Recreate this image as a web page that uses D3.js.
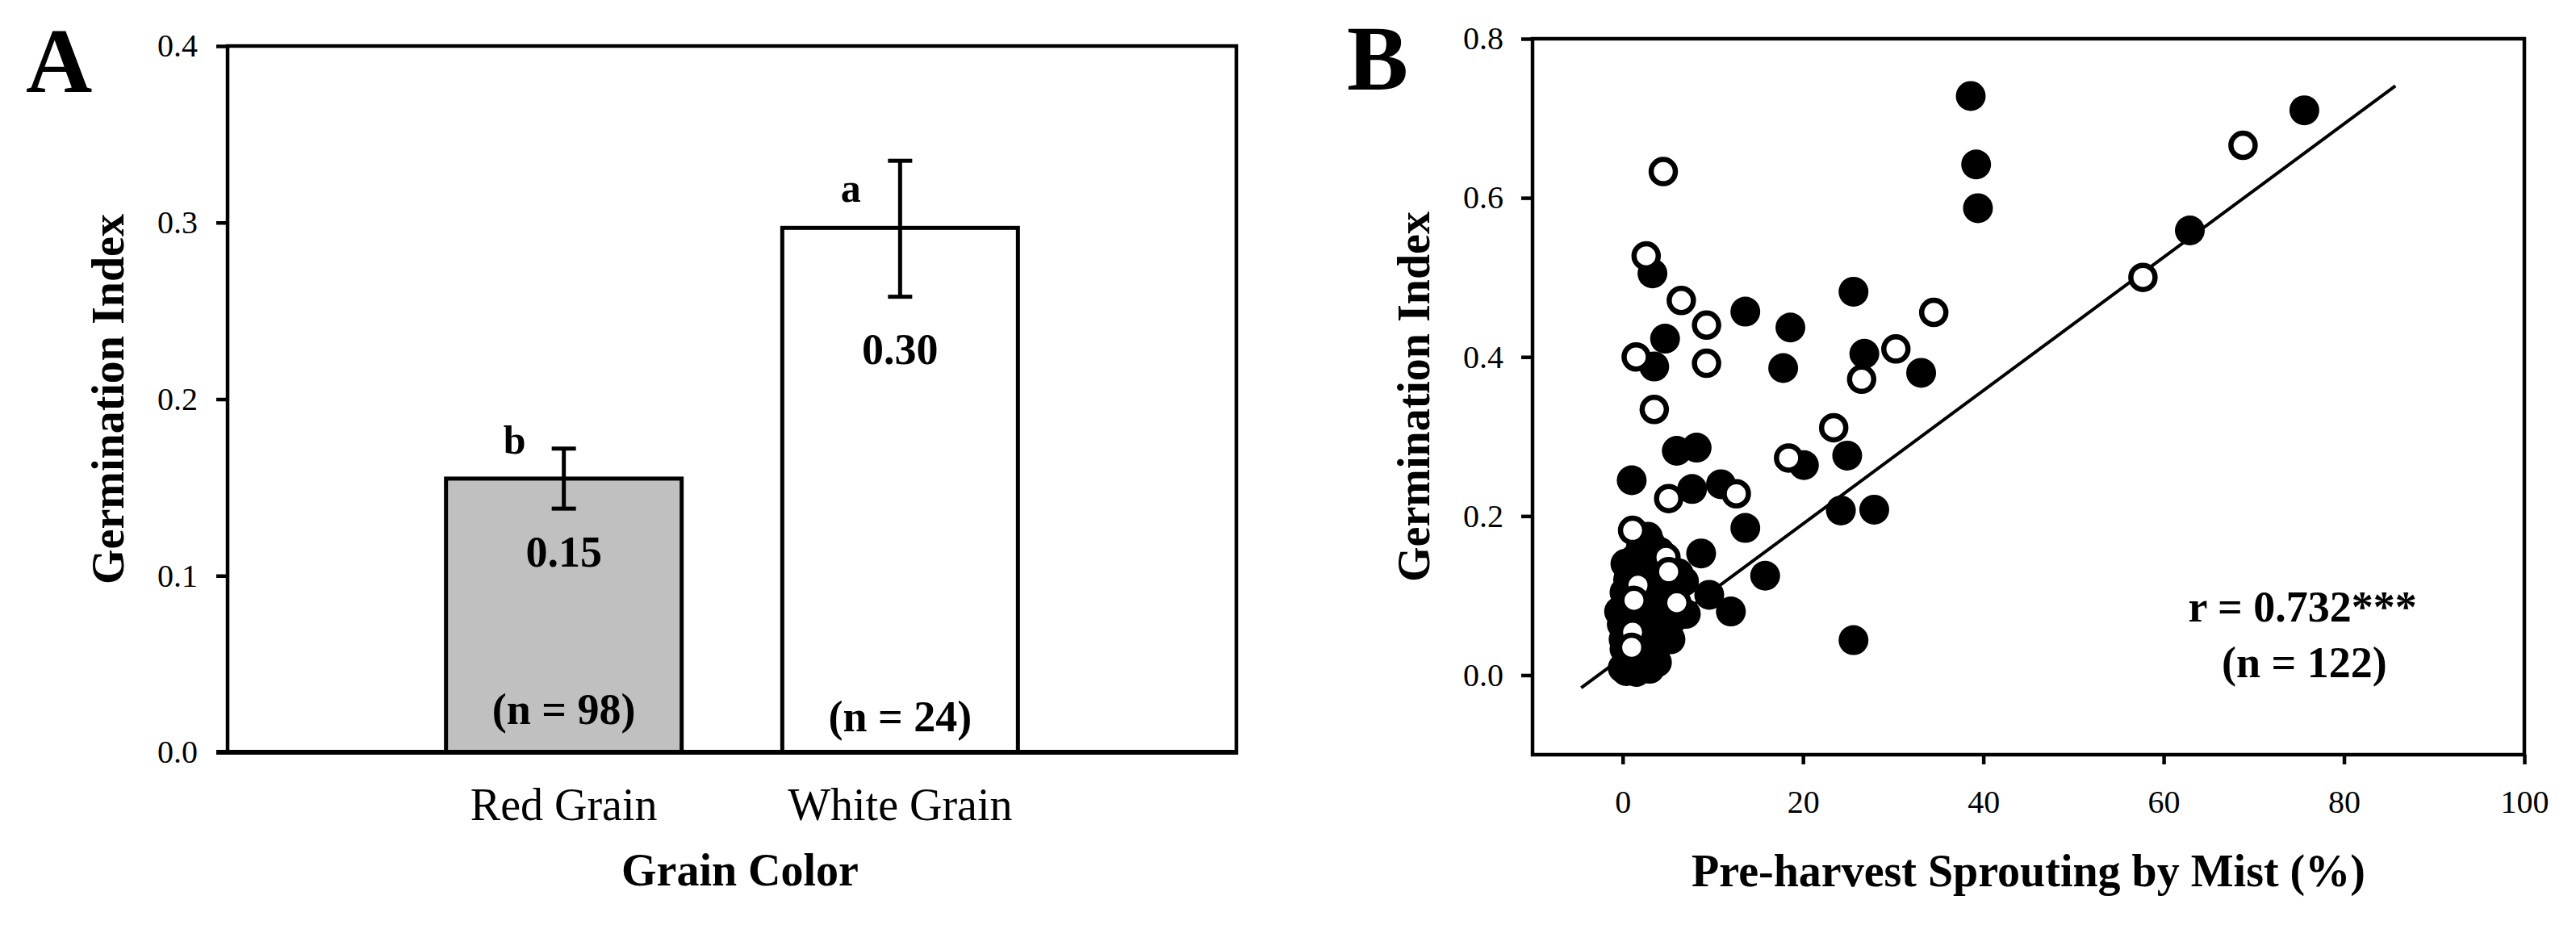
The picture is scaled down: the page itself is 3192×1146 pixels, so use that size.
<!DOCTYPE html>
<html>
<head>
<meta charset="utf-8">
<script src="https://cdn.jsdelivr.net/npm/d3@7"></script>
<style>
    body { margin: 0; background: #fff; }
    text { font-family: "Liberation Serif", "Times New Roman", serif; fill: #000; }
</style>
</head>
<body>
<svg id="chart" width="3192" height="1146"></svg>
<script>
// ---- Panel A data: germination index by grain colour ----
const grainCategories = ["Red Grain", "White Grain"];
const grainMeans = [0.155, 0.297];
const grainErrLow = [0.138, 0.258];
const grainErrHigh = [0.172, 0.335];
const grainValueLabels = ["0.15", "0.30"];
const grainCountLabels = ["(n = 98)", "(n = 24)"];
const grainLetters = ["b", "a"];
const grainFills = ["#c0c0c0", "#ffffff"];
const barTicks = [0, 0.1, 0.2, 0.3, 0.4];

// label anchors (data units on the y scale)
const valueLabelY = [0.105, 0.220];
const countLabelY = [0.016, 0.012];
const letterY = [0.169, 0.312];

// ---- Panel B data: [sprouting %, germination index] ----
const redGrainPoints = [
    [38.6, 0.728], [39.2, 0.642], [39.4, 0.587], [75.6, 0.710], [62.9, 0.559],
    [3.3, 0.505], [13.6, 0.457], [25.6, 0.482], [18.6, 0.437], [4.7, 0.423],
    [3.5, 0.388], [17.8, 0.386], [26.8, 0.404], [33.1, 0.380],
    [6.0, 0.282], [8.2, 0.286], [20.1, 0.264], [24.9, 0.276],
    [1.0, 0.245], [7.7, 0.234], [10.9, 0.240], [24.2, 0.207], [27.9, 0.208],
    [13.6, 0.185], [2.8, 0.174], [8.7, 0.153], [15.8, 0.125], [9.6, 0.101],
    [7.0, 0.077], [12.0, 0.080], [25.6, 0.044],
    [1.1, 0.138], [6.2, 0.128], [0.2, 0.104], [-0.1, 0.064], [3.8, 0.064],
    [4.1, 0.044], [0.2, 0.033], [0.0, 0.009], [1.5, 0.004], [2.3, 0.030],
    [-0.4, 0.080], [2.9, 0.091], [3.5, 0.118], [4.1, 0.155], [2.0, 0.160],
    [0.6, 0.120], [1.8, 0.075], [0.8, 0.050], [2.6, 0.052], [3.2, 0.020],
    [0.5, 0.018], [1.2, 0.145], [5.0, 0.090], [5.5, 0.070], [4.5, 0.105],
    [2.2, 0.110], [0.3, 0.140], [1.6, 0.020], [2.7, 0.135], [3.0, 0.008],
    [0.9, 0.085], [1.4, 0.064], [6.8, 0.118], [0.4, 0.005],
    [2.1, 0.090], [1.3, 0.100], [3.4, 0.075], [4.6, 0.125], [0.7, 0.065],
    [2.5, 0.040], [1.9, 0.125], [3.9, 0.100], [5.8, 0.105], [0.1, 0.045],
    [1.1, 0.028], [2.4, 0.150], [3.1, 0.165], [4.4, 0.060], [5.2, 0.112],
    [1.7, 0.042], [0.6, 0.095], [2.8, 0.115], [3.6, 0.030], [0.9, 0.012],
    [5.3, 0.045], [3.8, 0.016]
];
const whiteGrainPoints = [
    [4.5, 0.633], [2.6, 0.527], [6.5, 0.471], [9.3, 0.440], [1.5, 0.400],
    [9.3, 0.392], [30.3, 0.410], [26.5, 0.372], [34.5, 0.456], [3.5, 0.334],
    [23.4, 0.311], [18.4, 0.273], [5.1, 0.222], [12.6, 0.228], [1.1, 0.182],
    [4.8, 0.148], [5.1, 0.130], [1.7, 0.113], [1.25, 0.094], [6.0, 0.091],
    [1.1, 0.054], [1.0, 0.035], [68.8, 0.666], [57.7, 0.500]
];
const fitSlope = 0.00838;
const fitIntercept = 0.0226;
const fitRange = [-4.6, 85.7];
const scatterXTicks = [0, 20, 40, 60, 80, 100];
const scatterYTicks = [0, 0.2, 0.4, 0.6, 0.8];
const corrLabel = "r = 0.732***";
const corrCountLabel = "(n = 122)";
const corrLabelPos = [75.4, 0.067];
const corrCountPos = [75.6, -0.003];

const svg = d3.select("#chart");

/**
 * Styles an axis group the way the original figure does
 */
function styleAxis(g, fontSize) {
    g.select(".domain").remove();
    g.selectAll(".tick line").attr("stroke", "#000").attr("stroke-width", 4.5);
    g.selectAll(".tick text")
        .attr("fill", "#000")
        .style("font-family", "'Liberation Serif', serif")
        .style("font-size", fontSize + "px");
}

/**
 * Panel A: bar chart with error bars
 */
function drawBarPanel() {
    let left = 282, right = 1532, top = 57, bottom = 932;

    let x = d3.scalePoint().domain(grainCategories).range([left, right]).padding(1);
    let y = d3.scaleLinear().domain([0, 0.4]).range([bottom, top]);
    let barWidth = 292;

    let g = svg.append("g");

    // Bars
    g.selectAll("rect.bar")
        .data(grainCategories)
        .join("rect")
        .attr("class", "bar")
        .attr("x", d => x(d) - barWidth / 2)
        .attr("y", (d, i) => y(grainMeans[i]))
        .attr("width", barWidth)
        .attr("height", (d, i) => y(0) - y(grainMeans[i]))
        .attr("fill", (d, i) => grainFills[i])
        .attr("stroke", "#000")
        .attr("stroke-width", 5);

    // Error bars
    let err = g.selectAll("g.err").data(grainCategories).join("g").attr("class", "err");
    err.append("line")
        .attr("x1", d => x(d)).attr("x2", d => x(d))
        .attr("y1", (d, i) => y(grainErrLow[i]))
        .attr("y2", (d, i) => y(grainErrHigh[i]));
    err.append("line")
        .attr("x1", d => x(d) - 15).attr("x2", d => x(d) + 15)
        .attr("y1", (d, i) => y(grainErrHigh[i])).attr("y2", (d, i) => y(grainErrHigh[i]));
    err.append("line")
        .attr("x1", d => x(d) - 15).attr("x2", d => x(d) + 15)
        .attr("y1", (d, i) => y(grainErrLow[i])).attr("y2", (d, i) => y(grainErrLow[i]));
    err.selectAll("line").attr("stroke", "#000").attr("stroke-width", 5);

    // Labels inside and above the bars
    g.selectAll("text.value").data(grainCategories).join("text")
        .attr("class", "value")
        .attr("x", d => x(d)).attr("y", (d, i) => y(valueLabelY[i]))
        .attr("text-anchor", "middle").attr("font-weight", "bold").attr("font-size", 54)
        .text((d, i) => grainValueLabels[i]);
    g.selectAll("text.count").data(grainCategories).join("text")
        .attr("class", "count")
        .attr("x", d => x(d)).attr("y", (d, i) => y(countLabelY[i]))
        .attr("text-anchor", "middle").attr("font-weight", "bold").attr("font-size", 54)
        .text((d, i) => grainCountLabels[i]);
    g.selectAll("text.letter").data(grainCategories).join("text")
        .attr("class", "letter")
        .attr("x", d => x(d) - 61).attr("y", (d, i) => y(letterY[i]))
        .attr("text-anchor", "middle").attr("font-weight", "bold").attr("font-size", 50)
        .text((d, i) => grainLetters[i]);

    // Frame
    g.append("rect")
        .attr("x", left).attr("y", top)
        .attr("width", right - left).attr("height", bottom - top)
        .attr("fill", "none").attr("stroke", "#000").attr("stroke-width", 4.5);
    g.append("line")
        .attr("x1", left - 14).attr("x2", right + 2)
        .attr("y1", bottom).attr("y2", bottom)
        .attr("stroke", "#000").attr("stroke-width", 6);

    // Y axis
    let yAxis = g.append("g")
        .attr("transform", "translate(" + left + ",0)")
        .call(d3.axisLeft(y).tickValues(barTicks).tickFormat(d3.format(".1f")).tickSize(14).tickPadding(23));
    styleAxis(yAxis, 40);

    // Category labels
    g.selectAll("text.cat").data(grainCategories).join("text")
        .attr("class", "cat")
        .attr("x", d => x(d)).attr("y", 1016)
        .attr("text-anchor", "middle").attr("font-size", 56)
        .text(d => d);

    // Titles
    g.append("text")
        .attr("x", (left + right) / 2 + 10).attr("y", 1097)
        .attr("text-anchor", "middle").attr("font-weight", "bold").attr("font-size", 56)
        .text("Grain Color");
    g.append("text")
        .attr("transform", "translate(153," + (top + bottom) / 2 + ") rotate(-90)")
        .attr("text-anchor", "middle").attr("font-weight", "bold").attr("font-size", 56)
        .text("Germination Index");
    g.append("text")
        .attr("x", 32).attr("y", 114)
        .attr("font-weight", "bold").attr("font-size", 114)
        .text("A");
}

/**
 * Panel B: scatter plot with regression line
 */
function drawScatterPanel() {
    let left = 1899, right = 3128, top = 48, bottom = 935;

    let x = d3.scaleLinear().domain([-10, 100]).range([left, right]);
    let y = d3.scaleLinear().domain([-0.1, 0.8]).range([bottom, top]);

    let g = svg.append("g");

    // Frame
    g.append("rect")
        .attr("x", left).attr("y", top)
        .attr("width", right - left).attr("height", bottom - top)
        .attr("fill", "none").attr("stroke", "#000").attr("stroke-width", 4.5);

    // Regression line
    g.append("line")
        .attr("x1", x(fitRange[0])).attr("y1", y(fitIntercept + fitSlope * fitRange[0]))
        .attr("x2", x(fitRange[1])).attr("y2", y(fitIntercept + fitSlope * fitRange[1]))
        .attr("stroke", "#000").attr("stroke-width", 4);

    // Red grain (filled) then white grain (open)
    g.selectAll("circle.red").data(redGrainPoints).join("circle")
        .attr("class", "red")
        .attr("cx", d => x(d[0])).attr("cy", d => y(d[1]))
        .attr("r", 18.5).attr("fill", "#000");
    g.selectAll("circle.white").data(whiteGrainPoints).join("circle")
        .attr("class", "white")
        .attr("cx", d => x(d[0])).attr("cy", d => y(d[1]))
        .attr("r", 15).attr("fill", "#fff")
        .attr("stroke", "#000").attr("stroke-width", 6.5);

    // Axes
    let yAxis = g.append("g")
        .attr("transform", "translate(" + left + ",0)")
        .call(d3.axisLeft(y).tickValues(scatterYTicks).tickFormat(d3.format(".1f")).tickSize(14).tickPadding(22));
    styleAxis(yAxis, 40);
    let xAxis = g.append("g")
        .attr("transform", "translate(0," + bottom + ")")
        .call(d3.axisBottom(x).tickValues(scatterXTicks).tickFormat(d3.format("d")).tickSize(12).tickPadding(32));
    styleAxis(xAxis, 40);

    // Correlation note
    g.append("text")
        .attr("x", x(corrLabelPos[0])).attr("y", y(corrLabelPos[1]))
        .attr("text-anchor", "middle").attr("font-weight", "bold").attr("font-size", 54)
        .text(corrLabel);
    g.append("text")
        .attr("x", x(corrCountPos[0])).attr("y", y(corrCountPos[1]))
        .attr("text-anchor", "middle").attr("font-weight", "bold").attr("font-size", 54)
        .text(corrCountLabel);

    // Titles
    g.append("text")
        .attr("x", (left + right) / 2).attr("y", 1098)
        .attr("text-anchor", "middle").attr("font-weight", "bold").attr("font-size", 56)
        .text("Pre-harvest Sprouting by Mist (%)");
    g.append("text")
        .attr("transform", "translate(1771," + (top + bottom) / 2 + ") rotate(-90)")
        .attr("text-anchor", "middle").attr("font-weight", "bold").attr("font-size", 56)
        .text("Germination Index");
    g.append("text")
        .attr("x", 1669).attr("y", 111)
        .attr("font-weight", "bold").attr("font-size", 114)
        .text("B");
}

drawBarPanel();
drawScatterPanel();
</script>
</body>
</html>
